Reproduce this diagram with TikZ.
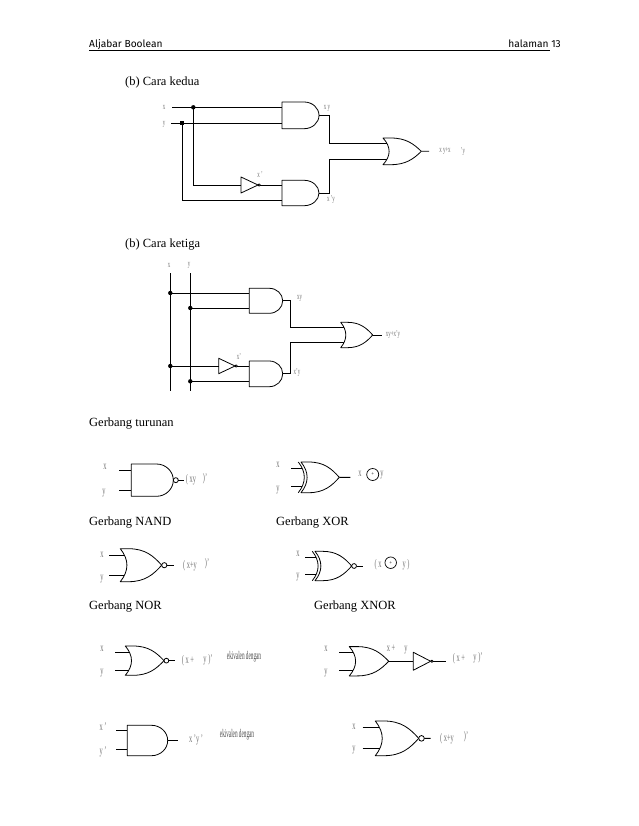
\documentclass[tikz,border=0pt]{standalone}
\usepackage{fontspec}
\setmainfont{Liberation Serif}
\newfontfamily\hdfont{Fira Sans}
\tikzset{
  gateline/.style={line width=.8pt,line join=round},
  wire/.style={line width=.8pt},
  lab/.style={text=black!55,inner sep=0pt,font=\fontsize{8.5}{8.5}\selectfont},
  labb/.style={text=black!55,inner sep=0pt,font=\fontsize{11}{11}\selectfont},
  ttl/.style={anchor=base west,inner sep=0pt,font=\fontsize{12.5}{13}\selectfont},
  hd/.style={anchor=base west,inner sep=0pt,font=\hdfont\fontsize{10.2}{11}\selectfont},
  eki/.style={text=black!70,inner sep=0pt,font=\fontsize{9}{9}\selectfont},
}
\newcommand\sq[1]{\scalebox{.58}[1.05]{#1}}
% AND: name, left, top, bottom, right, ya, yb
\newcommand\andg[7]{%
  \pgfmathsetmacro\gxs{#2+.6*(#5-#2)}\pgfmathsetmacro\grx{#5-\gxs}%
  \pgfmathsetmacro\gmy{(#3+#4)/2}\pgfmathsetmacro\gry{(#4-#3)/2}%
  \draw[gateline] (#2,#3) -- (\gxs,#3) .. controls (\gxs+.55*\grx,#3) and (#5,\gmy-.55*\gry) .. (#5,\gmy)
    .. controls (#5,\gmy+.55*\gry) and (\gxs+.55*\grx,#4) .. (\gxs,#4) -- (#2,#4) -- cycle;
  \coordinate (#1-a) at (#2,#6);\coordinate (#1-b) at (#2,#7);\coordinate (#1-o) at (#5,\gmy);}
% OR: name, left tips, top, bottom, tip, ya, yb
\newcommand\org[7]{%
  \pgfmathsetmacro\gw{#5-#2}\pgfmathsetmacro\gmy{(#3+#4)/2}\pgfmathsetmacro\gh{#4-#3}%
  \pgfmathsetmacro\gdp{.16*\gw}%
  \draw[gateline] (#2,#3) -- (#2+.2*\gw,#3) .. controls (#2+.6*\gw,#3) and (#5-.2*\gw,\gmy-.28*\gh) .. (#5,\gmy)
    .. controls (#5-.2*\gw,\gmy+.28*\gh) and (#2+.6*\gw,#4) .. (#2+.2*\gw,#4) -- (#2,#4)
    .. controls (#2+1.333*\gdp,#4-.3333*\gh) and (#2+1.333*\gdp,#3+.3333*\gh) .. (#2,#3) -- cycle;
  \pgfmathsetmacro\gfa{(#6-\gmy)/(\gh/2)}\pgfmathsetmacro\gfb{(#7-\gmy)/(\gh/2)}%
  \coordinate (#1-a) at (#2+\gdp-\gdp*\gfa*\gfa,#6);\coordinate (#1-b) at (#2+\gdp-\gdp*\gfb*\gfb,#7);
  \coordinate (#1-o) at (#5,\gmy);}
% extra XOR back arc: x, top, bottom, depth
\newcommand\xarc[4]{\draw[gateline] (#1,#2) .. controls (#1+1.333*#4,#2+.3333*#3-.3333*#2) and (#1+1.333*#4,#2+.6667*#3-.6667*#2) .. (#1,#3);}
% NOT: name, left, top, bottom, tip
\newcommand\invg[5]{%
  \draw[gateline] (#2,#3) -- (#5,{(#3+#4)/2}) -- (#2,#4) -- cycle;
  \draw[gateline,fill=white] (#5+1.2,{(#3+#4)/2}) circle (1.2);
  \coordinate (#1-a) at (#2,{(#3+#4)/2});\coordinate (#1-o) at (#5+2.4,{(#3+#4)/2});}
% bubble: name of gate, radius
\newcommand\bub[2]{\draw[gateline,fill=white] ([xshift=#2 pt]#1-o) circle (#2pt);
  \coordinate (#1-n) at ([xshift=2*#2 pt]#1-o);}
\begin{document}
\begin{tikzpicture}[x=1pt,y=-1pt]
\useasboundingbox[fill=white] (0,0) rectangle (638,826);
% header
\node[hd] (h1) at (89,48) {Aljabar Boolean};
\node[hd,anchor=base east] (h2) at (561,48) {halaman 13};
\coordinate (rl) at (89,50.5);\coordinate (rr) at (550,50.5);
\draw[line width=.8pt] (rl) -- (rr);
\node[ttl] (t1) at (125,86) {(b) Cara kedua};
\node[ttl] (t2) at (125,247) {(b) Cara ketiga};
\node[ttl] (t3) at (89,426) {Gerbang turunan};
\node[ttl] (t4) at (89,525) {Gerbang NAND};
\node[ttl] (t5) at (276,525) {Gerbang XOR};
\node[ttl] (t6) at (89,609) {Gerbang NOR};
\node[ttl] (t7) at (314,609) {Gerbang XNOR};

% ---- Cara kedua
\andg{a1}{282}{102}{128.7}{319}{107.3}{123.3}
\andg{a2}{282}{180.3}{205.7}{319}{185}{200.7}
\org{o1}{383}{138}{164.7}{421.3}{143}{159.3}
\invg{n1}{241}{177}{193}{258}
\coordinate (ix) at (172,107.3);\coordinate (iy) at (171,123.3);
\coordinate (dx) at (193.3,107.3);\coordinate (dy) at (182.3,123.3);
\coordinate (b1) at (329,130);\coordinate (oo1) at (429,151.3);
\draw[wire] (ix) -- (a1-a);
\draw[wire] (iy) -- (a1-b);
\draw[wire] (dx) |- (n1-a);
\draw[wire] (n1-o) -- (a2-a);
\draw[wire] (dy) |- (a2-b);
\draw[wire] (a1-o) -| (b1 |- o1-a) -- (o1-a);
\draw[wire] (a2-o) -| (b1 |- o1-b) -- (o1-b);
\draw[wire] (o1-o) -- (oo1);
\fill (dx) circle (2.2);
\fill (dy) ++(-2,-2) rectangle ++(4,4);
\node[lab] (l1) at (164,107) {\sq{x}};
\node[lab] (l2) at (164,124) {\sq{y}};
\node[lab] (l3) at (327,108) {\sq{x y}};
\node[lab] (l4) at (331,199) {\sq{x 'y}};
\node[lab] (l5) at (260,175) {\sq{x '}};
\node[lab] (l6) at (445,151) {\sq{x y+x}};
\node[lab] (l7) at (463,151) {\sq{'y}};

% ---- Cara ketiga
\andg{a3}{249.3}{288.3}{313.3}{282.7}{293}{308}
\andg{a4}{249.3}{361}{386.7}{282.7}{366}{381.3}
\org{o2}{340.7}{322.3}{347.7}{372.7}{327.3}{342.3}
\invg{n2}{218.7}{358.3}{373.7}{235}
\coordinate (xt) at (170.3,273);\coordinate (xb) at (170.3,391);
\coordinate (yt) at (190.3,273);\coordinate (yb) at (190.3,391);
\coordinate (d1) at (170.3,293);\coordinate (d2) at (190.3,308);
\coordinate (d3) at (170.3,366);\coordinate (d4) at (190.3,381.3);
\coordinate (b2) at (290.3,330);\coordinate (oo2) at (381.7,335);
\draw[wire] (xt) -- (xb);
\draw[wire] (yt) -- (yb);
\draw[wire] (d1) -- (a3-a);
\draw[wire] (d2) -- (a3-b);
\draw[wire] (d3) -- (n2-a);
\draw[wire] (n2-o) -- (a4-a);
\draw[wire] (d4) -- (a4-b);
\draw[wire] (a3-o) -| (b2 |- o2-a) -- (o2-a);
\draw[wire] (a4-o) -| (b2 |- o2-b) -- (o2-b);
\draw[wire] (o2-o) -- (oo2);
\foreach \d in {d1,d2,d3,d4} \fill (\d) circle (2.2);
\node[lab] (l8) at (169,265) {\sq{x}};
\node[lab] (l9) at (189,265) {\sq{y}};
\node[lab] (l10) at (299.7,298.7) {\sq{xy}};
\node[lab] (l11) at (297,372.7) {\sq{x'y}};
\node[lab] (l12) at (239,357) {\sq{x'}};
\node[lab] (l13) at (393,334) {\sq{xy+x'y}};

% ---- NAND
\andg{g1}{131.3}{464}{496.3}{173.3}{470.3}{490.3}
\bub{g1}{2.5}
\coordinate (g1i) at (119.3,470.3);\coordinate (g1j) at (119.3,490.3);\coordinate (g1e) at (184,480.15);
\draw[wire] (g1i) -- (g1-a);\draw[wire] (g1j) -- (g1-b);\draw[wire] (g1-n) -- (g1e);
\node[labb] (n1a) at (105,467) {\sq{x}};
\node[labb] (n1b) at (104,493) {\sq{y}};
\node[labb] (n1c) at (191,480) {\sq{( xy}};
\node[labb] (n1d) at (205,479) {\sq{)'}};

% ---- XOR
\org{g2}{301}{462}{492.7}{339.3}{468.3}{486}
\xarc{298.3}{462}{492.7}{6}
\coordinate (g2i) at (291,468.3);\coordinate (g2j) at (291,486);\coordinate (g2e) at (350.3,477.35);
\draw[wire] (g2i) -- ++(11,0);\draw[wire] (g2j) -- ++(11,0);\draw[wire] (g2-o) -- (g2e);
\node[labb] (x1a) at (278,465) {\sq{x}};
\node[labb] (x1b) at (278,490) {\sq{y}};
\node[labb] (x1c) at (360,474) {\sq{x}};
\node[draw,circle,minimum size=12pt,inner sep=0pt,line width=.7pt,font=\fontsize{5}{5}\selectfont] (x1d) at (372.7,474.5) {+};
\node[labb] (x1e) at (382,475) {\sq{y}};

% ---- NOR
\org{g3}{120.3}{548.7}{581.7}{161.7}{555.3}{575.3}
\bub{g3}{2.6}
\coordinate (g3i) at (109,555.3);\coordinate (g3j) at (109,575.3);\coordinate (g3e) at (173.7,565.2);
\draw[wire] (g3i) -- (g3-a);\draw[wire] (g3j) -- (g3-b);\draw[wire] (g3-n) -- (g3e);
\node[labb] (r1a) at (102,555) {\sq{x}};
\node[labb] (r1b) at (102,579) {\sq{y}};
\node[labb] (r1c) at (190,566) {\sq{( x+y}};
\node[labb] (r1d) at (207,564) {\sq{)'}};

% ---- XNOR
\org{g4}{315}{551.3}{580.7}{351.7}{557.3}{574.3}
\xarc{312.3}{551.3}{580.7}{5.8}
\bub{g4}{2.4}
\coordinate (g4i) at (305,557.3);\coordinate (g4j) at (305,574.3);\coordinate (g4e) at (362.7,566);
\draw[wire] (g4i) -- ++(11,0);\draw[wire] (g4j) -- ++(11,0);\draw[wire] (g4-n) -- (g4e);
\node[labb] (y1a) at (298,554) {\sq{x}};
\node[labb] (y1b) at (298,577) {\sq{y}};
\node[labb] (y1c) at (378,565) {\sq{( x}};
\node[draw,circle,minimum size=11.5pt,inner sep=0pt,line width=.7pt,font=\fontsize{5}{5}\selectfont] (y1d) at (390.7,562.7) {+};
\node[labb] (y1e) at (406,565) {\sq{y )}};

% ---- NOR equivalence
\org{g5}{125.3}{646}{675.3}{164}{652.3}{670.3}
\bub{g5}{2.4}
\coordinate (g5i) at (115.3,652.3);\coordinate (g5j) at (115.3,670.3);\coordinate (g5e) at (174.7,660.65);
\draw[wire] (g5i) -- (g5-a);\draw[wire] (g5j) -- (g5-b);\draw[wire] (g5-n) -- (g5e);
\node[labb] (e1a) at (102,649) {\sq{x}};
\node[labb] (e1b) at (102,673) {\sq{y}};
\node[labb] (e1c) at (188,661) {\sq{( x +}};
\node[labb] (e1d) at (208,660) {\sq{y )'}};
\node[eki] (e1e) at (244,657) {\scalebox{.58}[1.3]{ekivalen dengan}};

% ---- AND equivalence
\andg{g6}{127.3}{725.3}{755.7}{167.7}{730}{749}
\coordinate (g6i) at (116.3,730);\coordinate (g6j) at (116.3,749);\coordinate (g6e) at (177.7,740.5);
\draw[wire] (g6i) -- (g6-a);\draw[wire] (g6j) -- (g6-b);\draw[wire] (g6-o) -- (g6e);
\node[labb] (e2a) at (103,727) {\sq{x '}};
\node[labb] (e2b) at (103,752) {\sq{y '}};
\node[labb] (e2c) at (196,740) {\sq{x 'y '}};
\node[eki] (e2d) at (237,735) {\scalebox{.58}[1.3]{ekivalen dengan}};

% ---- OR + NOT
\org{g7}{349.3}{646.6}{675.9}{388.7}{652.3}{670.3}
\invg{n3}{413.3}{652.3}{670.2}{430.7}
\coordinate (g7i) at (339.3,652.3);\coordinate (g7j) at (339.3,670.3);\coordinate (g7e) at (445.7,661.25);
\draw[wire] (g7i) -- (g7-a);\draw[wire] (g7j) -- (g7-b);
\draw[wire] (g7-o) -- (n3-a);\draw[wire] (n3-o) -- (g7e);
\node[labb] (f1a) at (326,649) {\sq{x}};
\node[labb] (f1b) at (326,673) {\sq{y}};
\node[labb] (f1c) at (391,648) {\sq{x +}};
\node[labb] (f1d) at (406,650) {\sq{y}};
\node[labb] (f1e) at (459,659) {\sq{( x +}};
\node[labb] (f1f) at (478,658) {\sq{y )'}};

% ---- NOR large
\org{g8}{375.3}{721}{755.7}{418.7}{727.3}{748.3}
\bub{g8}{2.8}
\coordinate (g8i) at (362.7,727.3);\coordinate (g8j) at (362.7,748.3);\coordinate (g8e) at (430.7,738.35);
\draw[wire] (g8i) -- (g8-a);\draw[wire] (g8j) -- (g8-b);\draw[wire] (g8-n) -- (g8e);
\node[labb] (f2a) at (354,727) {\sq{x}};
\node[labb] (f2b) at (354,750) {\sq{y}};
\node[labb] (f2c) at (447,739) {\sq{( x+y}};
\node[labb] (f2d) at (466,737) {\sq{)'}};
\end{tikzpicture}
\end{document}
